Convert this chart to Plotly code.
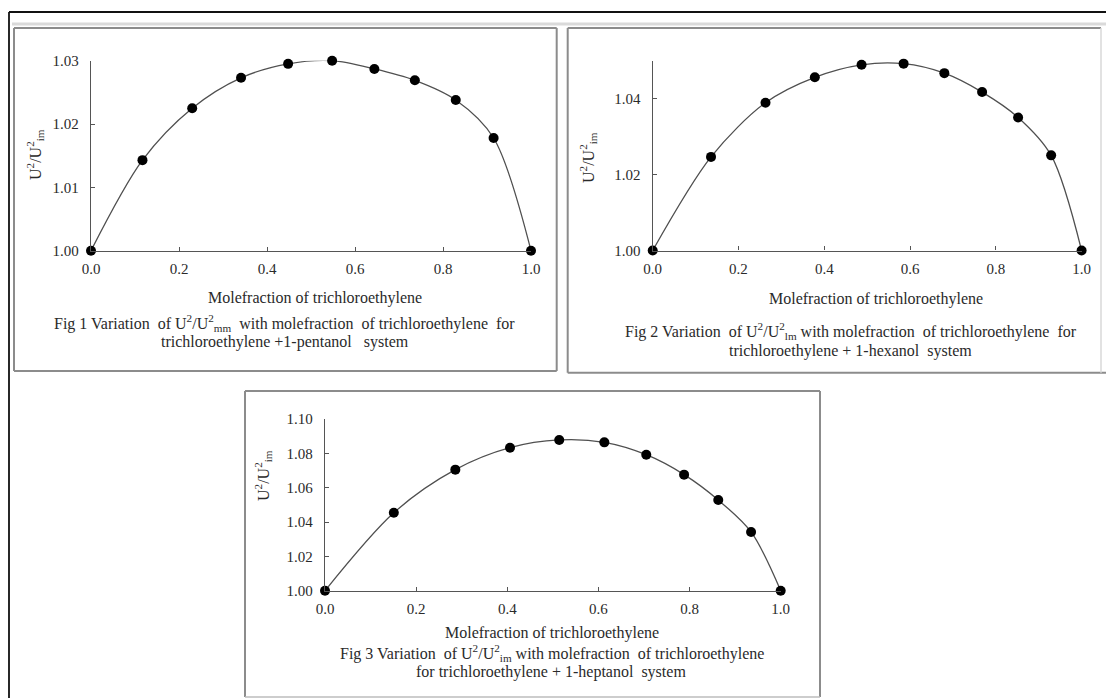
import plotly.graph_objects as go

W, H = 1106, 698

# ---------------- data ----------------
x_fig1 = [0.0, 0.117, 0.230, 0.341, 0.448, 0.548, 0.644, 0.736, 0.829, 0.915, 1.0]
y_fig1 = [1.0000, 1.0143, 1.0225, 1.0273, 1.0295, 1.0300, 1.0287, 1.0269, 1.0238, 1.0178, 1.0000]

x_fig2 = [0.0, 0.136, 0.263, 0.378, 0.487, 0.585, 0.680, 0.768, 0.852, 0.929, 1.0]
y_fig2 = [1.0000, 1.0247, 1.0390, 1.0457, 1.0490, 1.0493, 1.0468, 1.0418, 1.0351, 1.0251, 1.0000]

x_fig3 = [0.0, 0.151, 0.286, 0.406, 0.514, 0.613, 0.705, 0.788, 0.863, 0.935, 1.0]
y_fig3 = [1.000, 1.0454, 1.0705, 1.0833, 1.0878, 1.0864, 1.0792, 1.0676, 1.0528, 1.0342, 1.000]

x_ticks = [0.0, 0.2, 0.4, 0.6, 0.8, 1.0]
y_ticks1 = [1.00, 1.01, 1.02, 1.03]
y_ticks2 = [1.00, 1.02, 1.04]
y_ticks3 = [1.00, 1.02, 1.04, 1.06, 1.08, 1.10]
y_range1 = [1.00, 1.03]
y_range2 = [1.00, 1.05]
y_range3 = [1.00, 1.10]

x_title = "Molefraction of trichloroethylene"
y_title = "U<sup>2</sup>/U<sup>2</sup><sub>im</sub>"
cap1 = ["Fig 1 Variation  of U<sup>2</sup>/U<sup>2</sup><sub>mm</sub>  with molefraction  of trichloroethylene  for",
        "trichloroethylene +1-pentanol   system"]
cap2 = ["Fig 2 Variation  of U<sup>2</sup>/U<sup>2</sup><sub>lm</sub> with molefraction  of trichloroethylene  for",
        "trichloroethylene + 1-hexanol  system"]
cap3 = ["Fig 3 Variation  of U<sup>2</sup>/U<sup>2</sup><sub>im</sub> with molefraction  of trichloroethylene",
        "for trichloroethylene + 1-heptanol  system"]

FONT = "Liberation Serif, Times New Roman, serif"
TXT = "#2a2a2a"
AX = "#555555"


def px(x):
    return x / W


def py(y):
    return 1 - y / H


fig = go.Figure()

series = [(x_fig1, y_fig1, ""), (x_fig2, y_fig2, "2"), (x_fig3, y_fig3, "3")]
for xs, ys, k in series:
    fig.add_trace(go.Scatter(
        x=xs, y=ys, xaxis="x" + k, yaxis="y" + k, mode="lines+markers",
        line=dict(color="#505050", width=1.3, shape="spline", smoothing=0.9),
        marker=dict(color="black", size=10),
        cliponaxis=False, showlegend=False, hoverinfo="x+y"))

# panel geometry (pixels): x0, x1, ybottom(1.00), ytop(range max)
panels = [
    (91, 531, 250.7, 60.7, y_range1, y_ticks1),
    (652.7, 1081.6, 250.5, 61.0, y_range2, y_ticks2),
    (325, 780.7, 590.7, 419.0, y_range3, y_ticks3),
]

layout = dict(
    template="none",
    width=W, height=H, margin=dict(l=0, r=0, t=0, b=0, pad=0, autoexpand=False),
    paper_bgcolor="white", plot_bgcolor="rgba(0,0,0,0)",
    font=dict(family=FONT, size=15, color=TXT),
    showlegend=False,
)

for i, (x0, x1, yb, yt, yr, yt_vals) in enumerate(panels):
    k = "" if i == 0 else str(i + 1)
    layout["xaxis" + k] = dict(
        domain=[px(x0), px(x1)], range=[0, 1], anchor="y" + k, automargin=False,
        tickvals=x_ticks, ticktext=[f"{v:.1f}" for v in x_ticks],
        showline=True, linecolor=AX, linewidth=1.3, showgrid=False, zeroline=False,
        ticks="inside", ticklen=4, tickcolor=AX, tickwidth=1,
        tickfont=dict(family=FONT, size=15, color=TXT), ticklabelstandoff=4,
    )
    layout["yaxis" + k] = dict(
        domain=[py(yb), py(yt)], range=yr, anchor="x" + k, automargin=False,
        tickvals=yt_vals, ticktext=[f"{v:.2f}" for v in yt_vals],
        showline=True, linecolor=AX, linewidth=1.3, showgrid=False, zeroline=False,
        ticks="inside", ticklen=4, tickcolor=AX, tickwidth=1,
        tickfont=dict(family=FONT, size=15, color=TXT), ticklabelstandoff=8,
    )

fig.update_layout(**layout)

# ---------- annotations ----------
ann = []


def add_text(text, x, y, size=16, angle=0):
    ann.append(dict(text=text, x=px(x), y=py(y), xref="paper", yref="paper",
                    showarrow=False, xanchor="center", yanchor="middle",
                    textangle=angle, font=dict(family=FONT, size=size, color=TXT)))


add_text(x_title, 315, 298)
add_text(x_title, 876, 299)
add_text(x_title, 552, 633)
add_text(cap1[0], 284, 323)
add_text(cap1[1], 285, 342)
add_text(cap2[0], 851, 331)
add_text(cap2[1], 851, 351)
add_text(cap3[0], 552, 653)
add_text(cap3[1], 551, 672)
add_text(y_title, 35, 155, size=16, angle=-90)
add_text(y_title, 588, 157, size=16, angle=-90)
add_text(y_title, 263, 476, size=16, angle=-90)
fig.update_layout(annotations=ann)

# ---------- frame shapes ----------
shapes = []


def line(xa, ya, xb, yb, color, width):
    shapes.append(dict(type="line", xref="paper", yref="paper",
                       x0=px(xa), y0=py(ya), x1=px(xb), y1=py(yb),
                       line=dict(color=color, width=width)))


# outer black border
line(9, 12, 1106, 12, "#111111", 1.8)
line(9, 12, 9, 698, "#111111", 1.8)
# light band under top border
line(12, 24, 1106, 24, "#dadada", 3)
# panel 1 box
line(14, 28, 556.7, 28, "#8c8c8c", 2)
line(14, 28, 14, 371, "#8c8c8c", 2)
line(556.7, 28, 556.7, 371, "#8c8c8c", 2)
line(14, 371, 556.7, 371, "#8c8c8c", 2)
# panel 2 box
line(567.7, 28, 1101, 28, "#8c8c8c", 2)
line(567.7, 28, 567.7, 372.7, "#8c8c8c", 2)
line(567.7, 372.7, 1106, 372.7, "#8c8c8c", 2)
line(1101, 28, 1101, 372.7, "#d8d8d8", 1.5)
# panel 3 box
line(245, 391, 820, 391, "#8c8c8c", 2)
line(245, 391, 245, 697, "#8c8c8c", 2)
line(820, 391, 820, 697, "#8c8c8c", 2)
line(245, 697, 820, 697, "#bdbdbd", 1.5)

fig.update_layout(shapes=shapes)

fig.write_html(
    "out.html",
    config={"displayModeBar": False},
    post_script="document.body.style.margin='0';document.body.style.overflow='hidden';",
)
